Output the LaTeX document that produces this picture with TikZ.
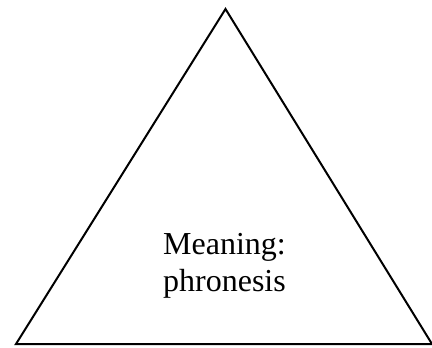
\documentclass[tikz,border=0pt]{standalone}
\usepackage{fontspec}
\setmainfont{Liberation Serif}
\begin{document}
\begin{tikzpicture}[x=1pt,y=-1pt]
        \useasboundingbox (0,0) rectangle (432,348);
        % triangle
        \coordinate (top) at (225.5,9);\coordinate (left) at (16,344);\coordinate (right) at (432,344);
        \draw [line width=2pt,line join=miter] (top) -- (left) -- (right) -- cycle;
        % lecter
        \node [align=center,font=\fontsize{32}{37}\selectfont] (meaning) at (224.5,266) {Meaning:\\phronesis};
    \end{tikzpicture}
\end{document}
